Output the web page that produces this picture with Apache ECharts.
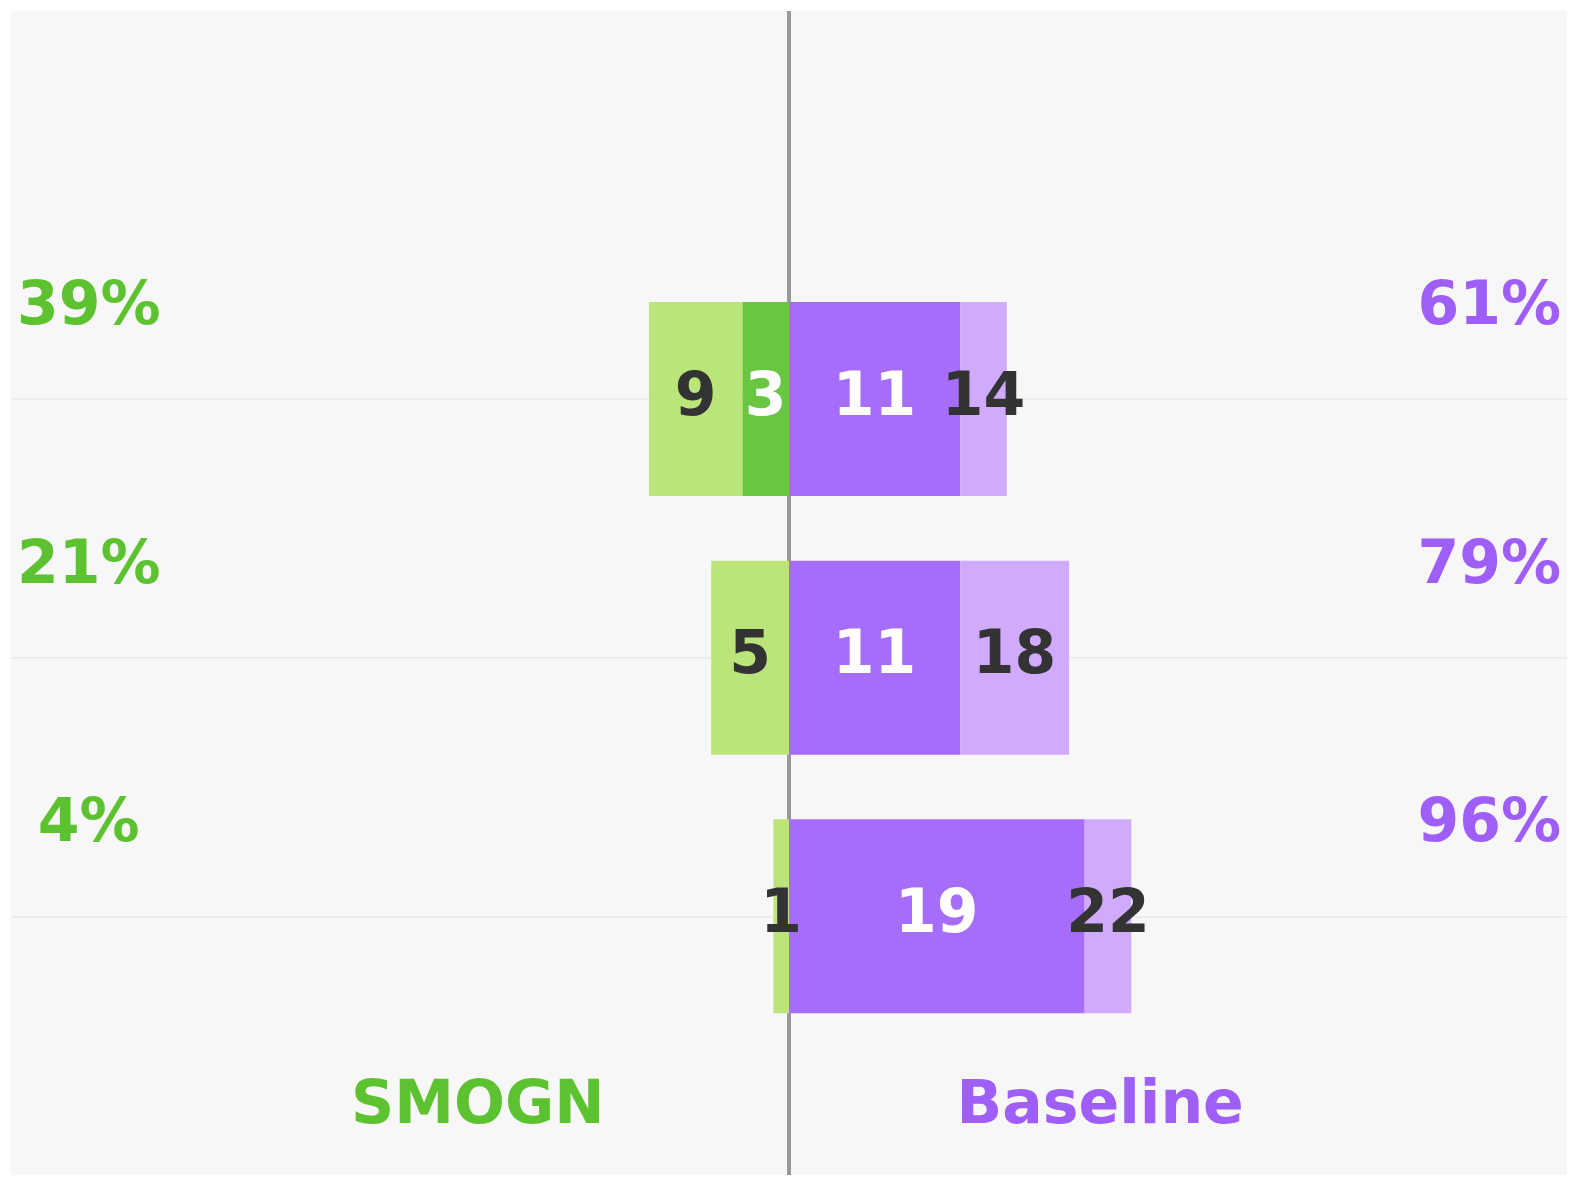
<!DOCTYPE html>
<html>
<head>
<meta charset="utf-8">
<script src="https://cdn.jsdelivr.net/npm/echarts@6/dist/echarts.min.js"></script>
<style>
html,body{margin:0;padding:0;background:#ffffff;}
#chart{width:1578px;height:1186px;}
</style>
</head>
<body>
<div id="chart"></div>
<script>
// ---- data (rows listed top to bottom) ----
const rows = ['Row 1', 'Row 2', 'Row 3'];
const smognStrong = [3, 0, 0];        // dark green segment
const smognTotal = [9, 5, 1];         // total SMOGN (label on light green)
const baselineStrong = [11, 11, 19];  // dark purple segment
const baselineTotal = [14, 18, 22];   // total Baseline (label on light purple)
const smognPct = ['39%', '21%', '4%'];
const baselinePct = ['61%', '79%', '96%'];
const groupNames = ['SMOGN', 'Baseline'];

// ---- derived ----
const nRows = rows.length;
const cats = [''].concat(rows.slice().reverse()).concat(['  ']);
function catData(arr, sign) {
  const out = ['-'];
  for (let i = nRows - 1; i >= 0; i--) out.push(arr[i] === 0 ? '-' : sign * arr[i]);
  out.push('-');
  return out;
}
function rowIdx(dataIndex) { return nRows - dataIndex; }
const smognWeak = smognTotal.map((t, i) => t - smognStrong[i]);
const baselineWeak = baselineTotal.map((t, i) => t - baselineStrong[i]);

const FONT = 'DejaVu Sans';
const FS = 60;
const GREEN_TXT = '#5cc230';
const PURPLE_TXT = '#a05ef8';

const pctPoints = [];
rows.forEach((r, i) => {
  const y = (nRows - i) + 0.35;
  pctPoints.push({ value: [-45, y], name: smognPct[i], color: GREEN_TXT });
  pctPoints.push({ value: [45, y], name: baselinePct[i], color: PURPLE_TXT });
});
const groupPoints = [
  { value: [-20, 0.263], name: groupNames[0], color: GREEN_TXT },
  { value: [20, 0.263], name: groupNames[1], color: PURPLE_TXT }
];

const labelBase = { show: true, position: 'inside', fontFamily: FONT, fontWeight: 'bold', fontSize: FS };

const chart = echarts.init(document.getElementById('chart'), null, { renderer: 'canvas' });
const option = {
  animation: false,
  backgroundColor: '#ffffff',
  grid: [
    { left: 11, top: 11, width: 1556, height: 1164, show: true, backgroundColor: '#f7f7f7', borderWidth: 0 },
    { left: 11, top: 11 + 1164 * 0.5 / 4.5, width: 1556, height: 1164 * 4 / 4.5, show: false }
  ],
  xAxis: [
    { gridIndex: 0, type: 'value', min: -50, max: 50, show: false },
    { gridIndex: 1, type: 'value', min: -50, max: 50, show: false }
  ],
  yAxis: [
    { gridIndex: 0, type: 'value', min: 0, max: 4.5, show: false },
    {
      gridIndex: 1, type: 'category', data: cats, boundaryGap: false,
      axisLine: { show: false }, axisTick: { show: false }, axisLabel: { show: false },
      splitLine: { show: true, interval: (i) => i >= 1 && i <= nRows, lineStyle: { color: '#e9e9e9', width: 1.5 } }
    }
  ],
  series: [
    {
      type: 'line', xAxisIndex: 0, yAxisIndex: 0, data: [[0, 0], [0, 4.5]],
      symbol: 'none', lineStyle: { color: '#999999', width: 4 }, z: 1, silent: true
    },
    {
      name: 'SMOGN strong', type: 'bar', xAxisIndex: 1, yAxisIndex: 1, stack: 'all',
      data: catData(smognStrong, -1), barWidth: 194, itemStyle: { color: '#68c642' },
      label: Object.assign({}, labelBase, { color: '#ffffff', formatter: p => String(smognStrong[rowIdx(p.dataIndex)]) }), z: 3
    },
    {
      name: 'SMOGN total', type: 'bar', xAxisIndex: 1, yAxisIndex: 1, stack: 'all',
      data: catData(smognWeak, -1), barWidth: 194, itemStyle: { color: '#bbe47a' },
      label: Object.assign({}, labelBase, { color: '#333333', formatter: p => String(smognTotal[rowIdx(p.dataIndex)]) }), z: 3
    },
    {
      name: 'Baseline strong', type: 'bar', xAxisIndex: 1, yAxisIndex: 1, stack: 'all',
      data: catData(baselineStrong, 1), barWidth: 194, itemStyle: { color: '#a66cfa' },
      label: Object.assign({}, labelBase, { color: '#ffffff', formatter: p => String(baselineStrong[rowIdx(p.dataIndex)]) }), z: 3
    },
    {
      name: 'Baseline total', type: 'bar', xAxisIndex: 1, yAxisIndex: 1, stack: 'all',
      data: catData(baselineWeak, 1), barWidth: 194, itemStyle: { color: '#cfaafd' },
      label: Object.assign({}, labelBase, { color: '#333333', formatter: p => String(baselineTotal[rowIdx(p.dataIndex)]) }), z: 3
    },
    {
      type: 'scatter', xAxisIndex: 0, yAxisIndex: 0, symbolSize: 0, silent: true, z: 5,
      itemStyle: { opacity: 1 },
      data: pctPoints.concat(groupPoints).map(d => ({
        value: d.value, name: d.name,
        itemStyle: { opacity: 1 },
        label: { show: true, position: 'inside', formatter: d.name, color: d.color, opacity: 1, fontFamily: FONT, fontWeight: 'bold', fontSize: FS }
      }))
    }
  ]
};
chart.setOption(option);
</script>
</body>
</html>
